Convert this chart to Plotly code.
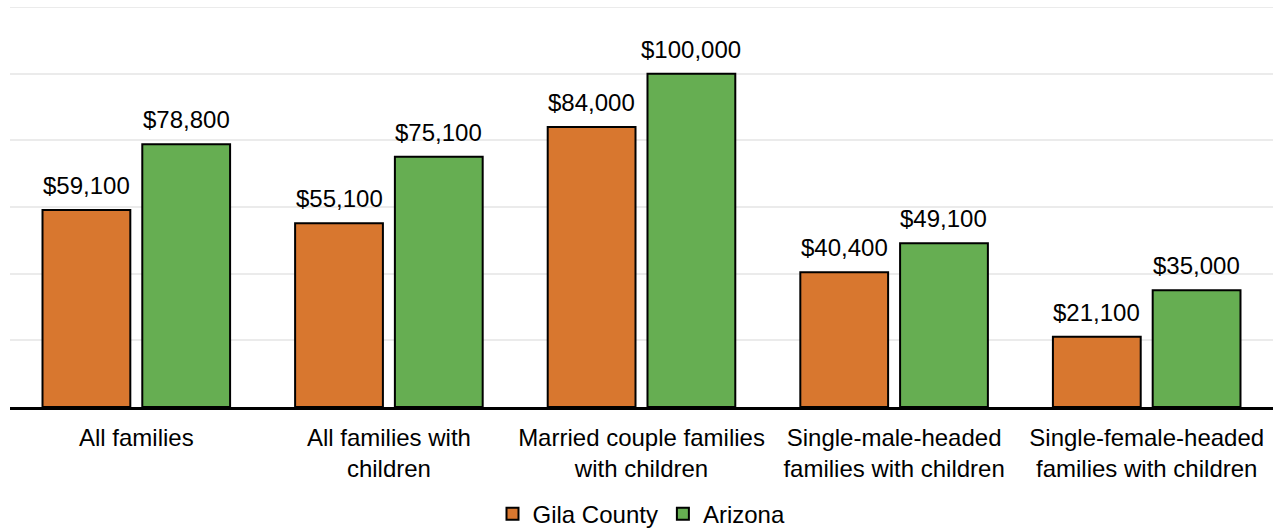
import plotly.graph_objects as go

categories = [
    "All families",
    "All families with<br>children",
    "Married couple families<br>with children",
    "Single-male-headed<br>families with children",
    "Single-female-headed<br>families with children",
]
gila_values = [59100, 55100, 84000, 40400, 21100]
arizona_values = [78800, 75100, 100000, 49100, 35000]

FONT = "Liberation Sans, Arial, sans-serif"
BARGAP = 0.21
PLOT_W = 1286 - 10 - 13
Y_MAX = 120000


def money(v):
    return "${:,}".format(v)


fig = go.Figure()
fig.add_trace(go.Bar(
    name="Gila County", x=categories, y=gila_values,
    marker=dict(color="#D8772F", line=dict(color="#000000", width=2)),
))
fig.add_trace(go.Bar(
    name="Arizona", x=categories, y=arizona_values,
    marker=dict(color="#66AE52", line=dict(color="#000000", width=2)),
))

# value labels above each bar, offset to the centre of its slot in the group
slot = (1 - BARGAP) * PLOT_W / len(categories) / 2
for values, side in ((gila_values, -1), (arizona_values, 1)):
    for cat, v in zip(categories, values):
        fig.add_annotation(
            x=cat, y=v, text=money(v), showarrow=False,
            xanchor="center", yanchor="bottom",
            xshift=side * slot / 2, yshift=9,
            font=dict(size=24, color="#000000", family=FONT),
        )

# gridline along the top edge of the plotting area
fig.add_shape(
    type="line", xref="paper", x0=0, x1=1, yref="y", y0=Y_MAX, y1=Y_MAX,
    line=dict(color="#EBEBEB", width=2), layer="below",
)

fig.update_layout(
    width=1286, height=529,
    margin=dict(l=10, r=13, t=7, b=122, autoexpand=False),
    paper_bgcolor="white", plot_bgcolor="white",
    barmode="group", bargap=BARGAP, bargroupgap=0.12,
    font=dict(family=FONT, size=24, color="#000000"),
    showlegend=True,
    legend=dict(
        orientation="h", x=0.5, xanchor="center",
        yref="container", y=0.028, yanchor="middle",
        font=dict(size=24, family=FONT), itemwidth=30, traceorder="normal",
    ),
)
fig.update_xaxes(
    showline=True, linecolor="#000000", linewidth=3,
    ticks="", tickfont=dict(size=24, family=FONT), showgrid=False,
    ticklabelstandoff=7, automargin=False,
)
fig.update_yaxes(
    range=[0, Y_MAX], dtick=20000, showticklabels=False,
    showgrid=True, gridcolor="#EBEBEB", gridwidth=2,
    zeroline=False, showline=False, automargin=False,
)

fig.write_html("out.html")
